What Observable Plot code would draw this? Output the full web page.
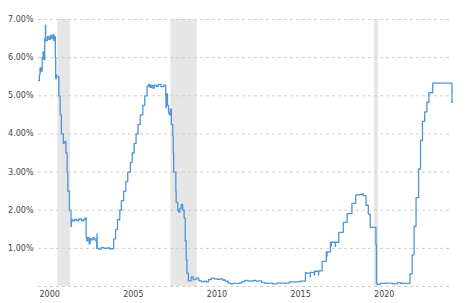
<!DOCTYPE html>
<html>
<head>
<meta charset="utf-8">
<script src="https://cdn.jsdelivr.net/npm/d3@7"></script>
<script src="https://cdn.jsdelivr.net/npm/@observablehq/plot@0.6"></script>
<style>
  html, body { margin: 0; padding: 0; background: #fff; }
</style>
</head>
<body>
<div id="chart"></div>
<script>
// Effective rate series (step points: date, percent)
const dates = [
  "2000-01-01","2000-01-20","2000-02-03","2000-02-25","2000-03-21","2000-04-10","2000-04-25","2000-05-16",
  "2000-05-30","2000-06-01","2000-06-05","2000-07-15","2000-08-15","2000-09-15","2000-10-15","2000-11-15",
  "2000-12-01","2000-12-20","2001-01-03","2001-01-10","2001-01-25","2001-02-01","2001-03-20","2001-04-18",
  "2001-05-15","2001-06-27","2001-07-15","2001-08-21","2001-09-17","2001-10-02","2001-11-06","2001-12-11",
  "2001-12-20","2002-01-15","2002-03-01","2002-04-15","2002-06-01","2002-08-01","2002-09-15","2002-10-15",
  "2002-11-06","2002-11-20","2002-12-10","2003-01-10","2003-02-01","2003-03-01","2003-04-01","2003-05-01",
  "2003-06-01","2003-06-25","2003-07-01","2003-07-04","2003-08-01","2003-10-01","2003-12-01","2004-02-01",
  "2004-04-01","2004-06-30","2004-08-10","2004-09-21","2004-11-10","2004-12-14","2005-02-02","2005-03-22",
  "2005-05-03","2005-06-30","2005-08-09","2005-09-20","2005-11-01","2005-12-13","2006-01-31","2006-03-28",
  "2006-05-10","2006-06-29","2006-08-01","2006-09-01","2006-10-01","2006-11-01","2006-12-01","2007-01-15",
  "2007-03-01","2007-05-01","2007-07-01","2007-08-09","2007-08-15","2007-08-25","2007-09-18","2007-10-10",
  "2007-10-31","2007-11-20","2007-12-11","2008-01-10","2008-01-22","2008-01-30","2008-02-20","2008-03-18",
  "2008-03-25","2008-04-30","2008-05-15","2008-06-15","2008-07-15","2008-08-15","2008-09-15","2008-10-08",
  "2008-10-29","2008-11-15","2008-12-16","2009-02-15","2009-04-01","2009-06-01","2009-08-01","2009-10-01",
  "2009-12-01","2010-01-15","2010-03-01","2010-05-01","2010-07-01","2010-09-01","2010-11-01","2011-01-01",
  "2011-03-01","2011-05-01","2011-07-01","2011-09-01","2011-11-01","2012-01-01","2012-03-01","2012-05-01",
  "2012-07-01","2012-09-01","2012-11-01","2013-01-01","2013-03-01","2013-05-01","2013-07-01","2013-09-01",
  "2013-11-01","2014-01-01","2014-04-01","2014-07-01","2014-10-01","2015-01-01","2015-04-01","2015-07-01",
  "2015-09-01","2015-12-17","2016-01-01","2016-03-31","2016-04-01","2016-06-30","2016-07-01","2016-09-30",
  "2016-10-01","2016-12-15","2017-03-16","2017-03-31","2017-04-03","2017-06-15","2017-06-30","2017-07-03",
  "2017-09-29","2017-10-02","2017-12-14","2018-03-22","2018-06-14","2018-09-27","2018-12-20","2019-03-01",
  "2019-05-01","2019-06-01","2019-08-01","2019-09-19","2019-10-31","2020-03-04","2020-03-16","2020-04-01",
  "2020-06-01","2020-10-01","2021-01-01","2021-03-01","2021-06-17","2021-09-01","2022-01-01","2022-03-17",
  "2022-05-05","2022-06-16","2022-07-28","2022-09-22","2022-11-03","2022-12-15","2023-02-02","2023-03-23",
  "2023-05-04","2023-07-27","2024-09-19","2024-10-01"
];
const rates = [
  5.40,5.55,5.73,5.65,6.00,6.15,5.95,6.50,
  6.45,6.85,6.45,6.55,6.48,6.58,6.50,6.60,
  6.45,6.55,6.00,5.45,5.55,5.50,5.00,4.50,
  4.00,3.75,3.80,3.50,3.00,2.50,2.00,1.58,
  1.75,1.72,1.76,1.73,1.77,1.72,1.76,1.80,
  1.30,1.20,1.28,1.12,1.25,1.22,1.28,1.24,
  1.20,1.00,1.38,1.00,0.98,1.02,1.00,1.01,
  0.99,1.25,1.50,1.75,2.00,2.25,2.50,2.75,
  3.00,3.25,3.50,3.75,4.00,4.25,4.50,4.75,
  5.00,5.25,5.30,5.22,5.27,5.20,5.28,5.25,
  5.30,5.24,5.28,5.00,4.70,5.05,4.75,4.55,
  4.50,4.65,4.25,3.95,3.50,3.00,3.00,2.50,
  2.20,2.00,1.95,2.05,2.15,2.00,1.80,1.20,
  0.70,0.35,0.15,0.25,0.18,0.22,0.15,0.12,
  0.14,0.12,0.18,0.22,0.20,0.19,0.20,0.17,
  0.14,0.09,0.07,0.08,0.08,0.09,0.13,0.16,
  0.15,0.14,0.16,0.14,0.15,0.11,0.09,0.08,
  0.09,0.07,0.09,0.09,0.09,0.12,0.12,0.13,
  0.14,0.37,0.35,0.25,0.37,0.30,0.40,0.30,
  0.41,0.66,0.91,0.80,0.91,1.16,1.06,1.16,
  1.05,1.16,1.42,1.68,1.91,2.18,2.40,2.41,
  2.43,2.38,2.13,1.90,1.55,1.10,0.08,0.05,
  0.08,0.09,0.09,0.07,0.10,0.08,0.08,0.33,
  0.83,1.58,2.33,3.08,3.83,4.33,4.58,4.83,
  5.08,5.33,4.83,4.83
];
// Recession periods
const recessionStarts = ["2001-03-01","2007-12-01","2020-02-01"];
const recessionEnds   = ["2001-11-30","2009-06-30","2020-04-30"];
// Axis ticks
const yearTicks = ["2000","2005","2010","2015","2020"];
const yTicks = [1,2,3,4,5,6,7];
const gridTicks = [0,1,2,3,4,5,6,7];

const parse = d3.utcParse("%Y-%m-%d");
const series = dates.map((d, i) => ({date: parse(d), rate: rates[i]}));
const recessions = recessionStarts.map((s, i) => ({start: parse(s), end: parse(recessionEnds[i])}));
const xTicks = yearTicks.map(y => d3.utcParse("%Y")(y));

const chart = Plot.plot({
  width: 466,
  height: 303,
  marginLeft: 38,
  marginRight: 14,
  marginTop: 19,
  marginBottom: 17,
  style: {fontFamily: "DejaVu Sans, sans-serif", fontSize: "8px", color: "#444", background: "#fff"},
  x: {type: "utc", domain: [parse("2000-01-01"), parse("2024-10-01")]},
  y: {domain: [0, 7]},
  marks: [
    Plot.rect(recessions, {x1: "start", x2: "end", y1: 0, y2: 7, fill: "#e6e6e6"}),
    Plot.gridY(gridTicks, {stroke: "#cfcfcf", strokeOpacity: 1, strokeDasharray: "3,3"}),
    Plot.axisY(yTicks, {tickSize: 0, tickPadding: 5, tickFormat: d => d.toFixed(2) + "%", label: null, fill: "#444"}),
    Plot.axisX(xTicks, {tickSize: 0, tickPadding: 5, textAnchor: "start", dx: 1, tickFormat: d3.utcFormat("%Y"), label: null, fill: "#444"}),
    Plot.line(series, {x: "date", y: "rate", curve: "step-after", stroke: "#4d94db", strokeWidth: 1.3})
  ]
});
document.getElementById("chart").appendChild(chart);
</script>
</body>
</html>
